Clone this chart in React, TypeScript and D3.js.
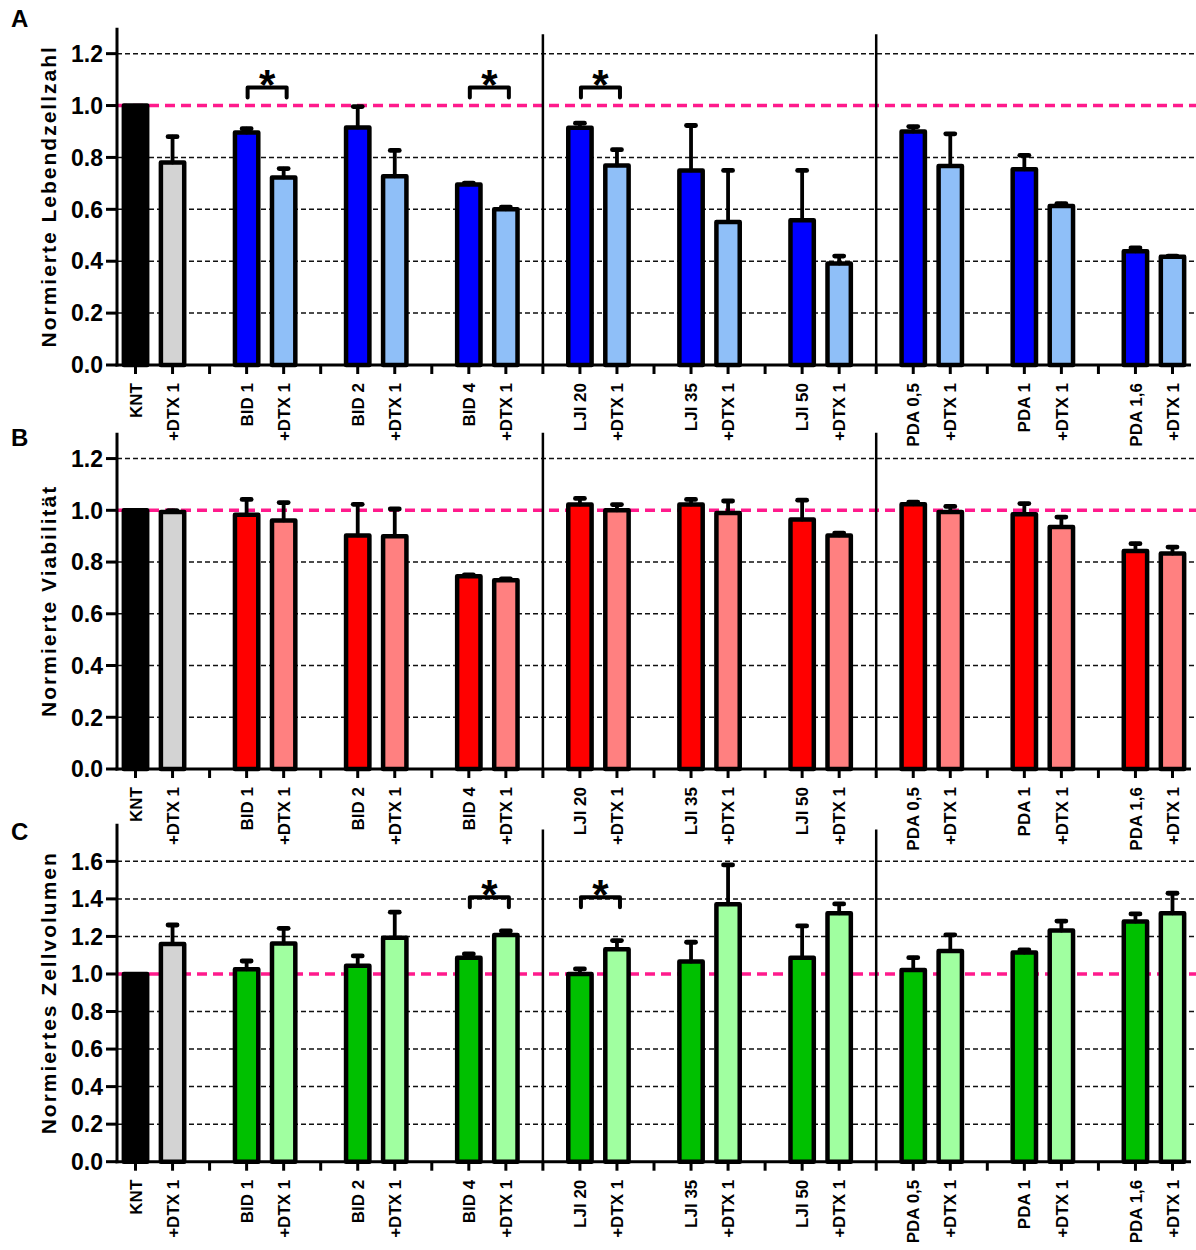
import * as d3 from 'd3'

// x categories (20 bars, one empty slot after each pair)
const categories = [
  'KNT', '+DTX 1', 'BID 1', '+DTX 1', 'BID 2', '+DTX 1', 'BID 4', '+DTX 1',
  'LJI 20', '+DTX 1', 'LJI 35', '+DTX 1', 'LJI 50', '+DTX 1',
  'PDA 0,5', '+DTX 1', 'PDA 1', '+DTX 1', 'PDA 1,6', '+DTX 1',
]

// A: Normierte Lebendzellzahl
const lebendzellzahl = [1.0, 0.78, 0.896, 0.723, 0.915, 0.727, 0.696, 0.6, 0.914, 0.769, 0.75, 0.551, 0.558, 0.391, 0.9, 0.767, 0.754, 0.613, 0.438, 0.417]
const lebendzellzahlSem = [0, 0.1, 0.015, 0.034, 0.081, 0.1, 0.005, 0.008, 0.018, 0.061, 0.173, 0.199, 0.192, 0.029, 0.019, 0.124, 0.054, 0.009, 0.013, 0.003]

// B: Normierte Viabilität
const viabilitaet = [1.0, 0.993, 0.983, 0.961, 0.903, 0.9, 0.745, 0.73, 1.022, 1.0, 1.022, 0.99, 0.964, 0.903, 1.023, 0.993, 0.985, 0.935, 0.843, 0.833]
const viabilitaetSem = [0, 0.006, 0.059, 0.069, 0.12, 0.105, 0.005, 0.005, 0.024, 0.022, 0.02, 0.046, 0.075, 0.009, 0.009, 0.022, 0.041, 0.039, 0.028, 0.025]

// C: Normiertes Zellvolumen
const zellvolumen = [1.0, 1.16, 1.025, 1.163, 1.044, 1.193, 1.087, 1.208, 1.0, 1.132, 1.066, 1.371, 1.087, 1.323, 1.021, 1.123, 1.114, 1.231, 1.279, 1.323]
const zellvolumenSem = [0, 0.101, 0.044, 0.08, 0.052, 0.136, 0.02, 0.021, 0.027, 0.046, 0.103, 0.21, 0.169, 0.05, 0.066, 0.085, 0.014, 0.051, 0.041, 0.107]

const ticksAB = [0, 0.2, 0.4, 0.6, 0.8, 1.0, 1.2]
const ticksC = [0, 0.2, 0.4, 0.6, 0.8, 1.0, 1.2, 1.4, 1.6]

// significant pairs (bar indices)
const sigA = [[2, 3], [6, 7], [8, 9]]
const sigC = [[6, 7], [8, 9]]

const font = "'Liberation Sans', Arial, Helvetica, sans-serif"
const pink = '#ff1a8c'

const x = d3.scaleBand<number>().domain(d3.range(29)).range([117, 1191])
const slotOf = (i: number) => i + Math.floor(i / 2)
const cx = (slot: number) => (x(slot) as number) + x.bandwidth() / 2
const barW = x.bandwidth() * 0.63

const Panel = ({ letter, letterY, y0, yTop, yMax, ticks, values, sem, dark, light, title, sepTop, sig, sigY }) => {
  const y = d3.scaleLinear().domain([0, yMax]).range([y0, yTop])
  const fmt = d3.format('.1f')
  const colorOf = (i: number) => (i === 0 ? '#000' : i === 1 ? '#d3d3d3' : i % 2 === 0 ? dark : light)

  return (
    <g>
      <text x={11} y={letterY} fontFamily={font} fontWeight="bold" fontSize={24}>{letter}</text>

      {/* grid */}
      {ticks.filter(t => t !== 0 && t !== 1).map(t => (
        <line key={t} x1={117} x2={1196} y1={y(t)} y2={y(t)} stroke="#111" strokeWidth={1.5} strokeDasharray="5,3" />
      ))}
      <line x1={117} x2={1196} y1={y(1)} y2={y(1)} stroke={pink} strokeWidth={3.5} strokeDasharray="10,6" />

      {/* group separators */}
      {[11, 20].map(s => (
        <line key={s} x1={cx(s)} x2={cx(s)} y1={y(sepTop)} y2={y0} stroke="#000" strokeWidth={2.5} />
      ))}

      {/* bars */}
      {values.map((v, i) => {
        const c = cx(slotOf(i))
        return (
          <rect key={i} x={c - barW / 2} y={y(v)} width={barW} height={y0 - y(v)}
            fill={colorOf(i)} stroke="#000" strokeWidth={4.5} strokeLinejoin="round" />
        )
      })}

      {/* error bars (upper only) */}
      {values.map((v, i) => {
        if (!sem[i]) return null
        const c = cx(slotOf(i))
        const top = y(v + sem[i])
        return (
          <g key={i} stroke="#000" strokeLinecap="round">
            <line x1={c} x2={c} y1={y(v)} y2={top} strokeWidth={3.8} />
            <line x1={c - 4.5} x2={c + 4.5} y1={top} y2={top} strokeWidth={4.8} />
          </g>
        )
      })}

      {/* y axis */}
      <line x1={117} x2={117} y1={yTop} y2={y0 + 1.5} stroke="#000" strokeWidth={3} />
      {ticks.map(t => (
        <g key={t}>
          <line x1={106} x2={117} y1={y(t)} y2={y(t)} stroke="#000" strokeWidth={3} />
          <text x={103} y={y(t)} dy="0.36em" textAnchor="end" fontFamily={font} fontWeight="bold" fontSize={23}>{fmt(t)}</text>
        </g>
      ))}
      <text transform={`translate(56,${(y0 + yTop) / 2}) rotate(-90)`} textAnchor="middle"
        fontFamily={font} fontWeight="bold" fontSize={21} letterSpacing={2}>{title}</text>

      {/* x axis */}
      <line x1={115.5} x2={1191} y1={y0} y2={y0} stroke="#000" strokeWidth={3} />
      {d3.range(29).map(s => (
        <line key={s} x1={cx(s)} x2={cx(s)} y1={y0} y2={y0 + 9} stroke="#000" strokeWidth={3} />
      ))}
      {categories.map((c, i) => (
        <text key={i} transform={`translate(${cx(slotOf(i))},${y0 + 18}) rotate(-90)`} dy="0.36em"
          textAnchor="end" fontFamily={font} fontWeight="bold" fontSize={17}>{c}</text>
      ))}

      {/* significance */}
      {sig.map(([a, b]) => {
        const xa = cx(slotOf(a)) + 1
        const xb = cx(slotOf(b)) + 3
        const yb = y(sigY)
        return (
          <g key={a}>
            <path d={`M${xa},${yb + 10}V${yb}H${xb}V${yb + 10}`} fill="none" stroke="#000" strokeWidth={4} strokeLinecap="round" strokeLinejoin="round" />
            <text x={(xa + xb) / 2} y={yb + 12} textAnchor="middle" fontFamily={font} fontWeight="bold" fontSize={42}>*</text>
          </g>
        )
      })}
    </g>
  )
}

export default function App() {
  return (
    <svg width={1196} height={1250} style={{ position: 'absolute', left: 0, top: 0, background: '#fff' }}>
      <Panel letter="A" letterY={27} y0={365} yTop={27.7} yMax={1.3} ticks={ticksAB}
        values={lebendzellzahl} sem={lebendzellzahlSem} dark="#0000ff" light="#8fbff8"
        title="Normierte Lebendzellzahl" sepTop={1.275} sig={sigA} sigY={1.07} />
      <Panel letter="B" letterY={446} y0={769} yTop={432.7} yMax={1.3} ticks={ticksAB}
        values={viabilitaet} sem={viabilitaetSem} dark="#ff0000" light="#ff8080"
        title="Normierte Viabilität" sepTop={1.3} sig={[]} sigY={0} />
      <Panel letter="C" letterY={840} y0={1161.7} yTop={823.8} yMax={1.8} ticks={ticksC}
        values={zellvolumen} sem={zellvolumenSem} dark="#00c000" light="#a0ffa0"
        title="Normiertes Zellvolumen" sepTop={1.77} sig={sigC} sigY={1.409} />
    </svg>
  )
}
